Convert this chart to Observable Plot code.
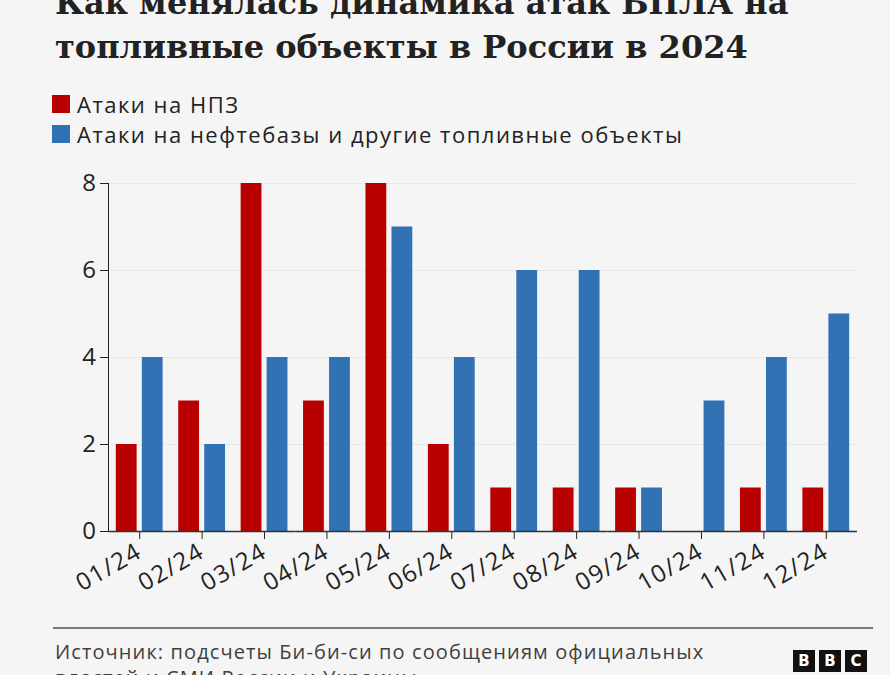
<!DOCTYPE html>
<html>
<head>
<meta charset="utf-8">
<script src="https://cdn.jsdelivr.net/npm/d3@7"></script>
<script src="https://cdn.jsdelivr.net/npm/@observablehq/plot@0.6"></script>
<style>
  html, body { margin: 0; padding: 0; background: #f5f5f5; width: 890px; height: 675px; overflow: hidden; position: relative; }
  body { font-family: "Open Sans", sans-serif; color: #222; }
  #title { position: absolute; left: 55px; top: -19px; width: 830px; font-family: "DejaVu Serif", serif; font-weight: bold; font-size: 32px; line-height: 44px; color: #222; }
  #legend { position: absolute; left: 52px; top: 89px; font-size: 22px; letter-spacing: 1.5px; line-height: 30px; color: #222; }
  .row { display: flex; align-items: center; height: 30px; }
  .sw { width: 18px; height: 18px; margin-right: 7px; }
  #chart { position: absolute; left: 0; top: 160px; }
  #rule { position: absolute; left: 53px; top: 627px; width: 820px; border-top: 2px solid #7a7a7a; }
  #source { position: absolute; left: 55px; top: 639px; width: 670px; font-size: 20px; letter-spacing: 1.1px; line-height: 26px; color: #404040; }
  #logo { position: absolute; left: 793px; top: 650px; display: flex; gap: 4px; }
  #logo span { width: 22px; height: 22px; background: #111; color: #fff; font: bold 15px "DejaVu Sans", sans-serif; display: flex; align-items: center; justify-content: center; }
</style>
</head>
<body>
<div id="title">Как менялась динамика атак БПЛА на топливные объекты в России в 2024</div>
<div id="legend"></div>
<div id="chart"></div>
<div id="rule"></div>
<div id="source">Источник: подсчеты Би-би-си по сообщениям официальных властей и СМИ России и Украины</div>
<div id="logo"><span>B</span><span>B</span><span>C</span></div>
<script>
const months = ["01/24","02/24","03/24","04/24","05/24","06/24","07/24","08/24","09/24","10/24","11/24","12/24"];
const refineryAttacks = [2,3,8,3,8,2,1,1,1,0,1,1];
const otherAttacks = [4,2,4,4,7,4,6,6,1,3,4,5];
const seriesNames = ["Атаки на НПЗ", "Атаки на нефтебазы и другие топливные объекты"];
const seriesColors = ["#b80000", "#3172b5"];
const yTicks = [0,2,4,6,8];

const data = months.flatMap((m, i) => [
  {month: m, series: seriesNames[0], value: refineryAttacks[i]},
  {month: m, series: seriesNames[1], value: otherAttacks[i]}
]);

const legend = document.getElementById("legend");
seriesNames.forEach((s, i) => {
  const row = document.createElement("div");
  row.className = "row";
  row.innerHTML = `<div class="sw" style="background:${seriesColors[i]}"></div><span>${s}</span>`;
  legend.appendChild(row);
});

const chart = Plot.plot({
  width: 890,
  height: 455,
  marginTop: 23,
  marginLeft: 108,
  marginRight: 33,
  marginBottom: 84,
  style: {background: "transparent", fontFamily: "Open Sans", fontSize: "24px", letterSpacing: "1.5px", color: "#222", overflow: "visible"},
  fx: {domain: months, padding: 0, round: false, label: null, tickSize: 8, tickRotate: -30, tickPadding: 10},
  x: {domain: seriesNames, paddingInner: 0.2, paddingOuter: 0.3, round: false, axis: null},
  y: {domain: [0, 8], ticks: yTicks, label: null, tickSize: 8, tickPadding: 3, line: true},
  color: {domain: seriesNames, range: seriesColors},
  marks: [
    Plot.gridY(yTicks, {strokeOpacity: 0.06}),
    Plot.barY(data, {fx: "month", x: "series", y: "value", fill: "series"}),
    Plot.ruleY([0], {stroke: "#333", strokeWidth: 1.5})
  ]
});
document.getElementById("chart").appendChild(chart);
</script>
</body>
</html>
